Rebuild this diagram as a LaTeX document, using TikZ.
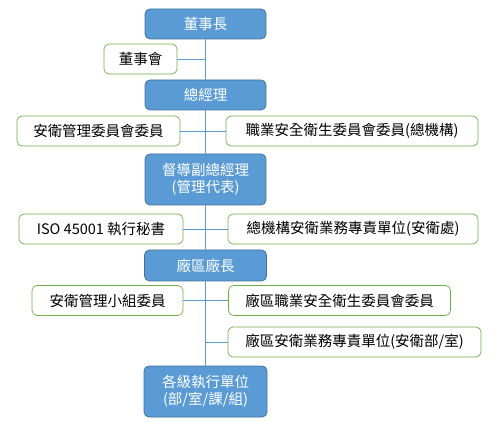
\documentclass[tikz,border=0pt]{standalone}
\usepackage{fontspec}
\setmainfont{Noto Sans CJK TC}
\definecolor{headfill}{HTML}{5B9BD5}
\definecolor{headline}{HTML}{41719C}
\definecolor{memberline}{HTML}{70AD47}
\definecolor{linkline}{HTML}{5B9BD5}
\tikzset{
    head/.style={draw=headline, fill=headfill, text=white, rounded corners=5pt, line width=0.8pt,
        align=center, inner sep=0pt, font=\fontsize{14.5}{17}\selectfont},
    member/.style={draw=memberline, fill=white, rounded corners=5pt, line width=0.7pt,
        align=center, inner sep=0pt, font=\fontsize{14.5}{17}\selectfont},
    link/.style={draw=linkline, line width=0.8pt}
}
\begin{document}
\begin{tikzpicture}[x=1pt, y=-1pt]
    \useasboundingbox (0,0) rectangle (493,422);

    \node[head, minimum width=121pt, minimum height=30pt] (chair) at (205.5, 24) {董事長};
    \node[member, minimum width=73pt, minimum height=30pt] (board) at (140.5, 59) {董事會};
    \node[head, minimum width=121pt, minimum height=30pt] (gm) at (205.5, 95) {總經理};
    \node[member, minimum width=163pt, minimum height=30pt] (safetycomm) at (98.5, 131) {安衛管理委員會委員};
    \node[member, minimum width=252pt, minimum height=30pt] (oshcomm) at (352, 131) {職業安全衛生委員會委員(總機構)};
    \node[head, minimum width=121pt, minimum height=51pt] (vp) at (205.5, 179.5) {督導副總經理\\(管理代表)};
    \node[member, minimum width=164pt, minimum height=30pt] (iso) at (101, 229) {ISO 45001 執行秘書};
    \node[member, minimum width=250pt, minimum height=30pt] (hqunit) at (353, 229) {總機構安衛業務專責單位(安衛處)};
    \node[head, minimum width=122pt, minimum height=31pt] (plant) at (205.5, 265.5) {廠區廠長};
    \node[member, minimum width=151pt, minimum height=30pt] (team) at (107.5, 300.5) {安衛管理小組委員};
    \node[member, minimum width=222pt, minimum height=30pt] (plantcomm) at (339.5, 300.5) {廠區職業安全衛生委員會委員};
    \node[member, minimum width=253pt, minimum height=30pt] (plantunit) at (354.5, 342) {廠區安衛業務專責單位(安衛部/室)};
    \node[head, minimum width=123pt, minimum height=51pt] (units) at (205.5, 391.5) {各級執行單位\\(部/室/課/組)};

    % trunk
    \draw[link] (chair.south) -- (gm.north);
    \draw[link] (gm.south) -- (vp.north);
    \draw[link] (vp.south) -- (plant.north);
    \draw[link] (plant.south) -- (units.north);

    % side branches
    \draw[link] (board.east) -- (board.east -| chair.south);
    \draw[link] (safetycomm.east) -- (oshcomm.west);
    \draw[link] (iso.east) -- (hqunit.west);
    \draw[link] (team.east) -- (plantcomm.west);
    \draw[link] (plantunit.west) -- (plantunit.west -| plant.south);
\end{tikzpicture}
\end{document}
